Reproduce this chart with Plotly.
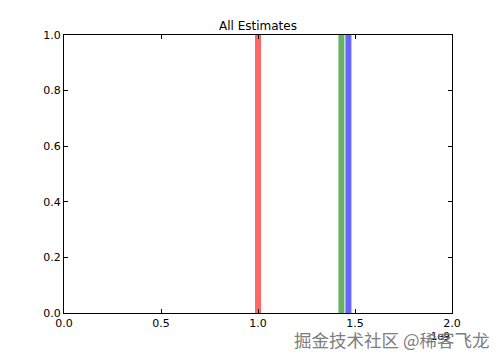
import plotly.graph_objects as go

estimates = [1.0e9, 1.43e9, 1.466e9]
colors = ["rgba(255,0,0,0.6)", "rgba(0,128,0,0.6)", "rgba(0,0,255,0.6)"]
x_ticks = [0.0, 0.5, 1.0, 1.5, 2.0]
y_ticks = [0.0, 0.2, 0.4, 0.6, 0.8, 1.0]
scale = 1e9

fig = go.Figure()
for v, c in zip(estimates, colors):
    fig.add_trace(go.Scatter(x=[v / scale, v / scale], y=[0, 1], mode="lines",
                             line=dict(color=c, width=6), showlegend=False, hoverinfo="skip"))

axis_common = dict(showgrid=False, zeroline=False, showline=True, linecolor="black", linewidth=1,
                   mirror="ticks", ticks="inside", ticklen=4, tickcolor="black",
                   tickfont=dict(family="DejaVu Sans", size=11, color="black"))
fig.update_xaxes(range=[0, 2], tickvals=x_ticks, ticktext=[f"{t:.1f}" for t in x_ticks], **axis_common)
fig.update_yaxes(range=[0, 1], tickvals=y_ticks, ticktext=[f"{t:.1f}" for t in y_ticks], **axis_common)

fig.update_layout(
    width=502, height=359,
    margin=dict(l=64, r=50, t=35, b=46),
    paper_bgcolor="white", plot_bgcolor="white",
    title=dict(text="All Estimates", x=0.5, xref="paper", xanchor="center",
               y=1 - 26 / 359, yref="container", yanchor="middle",
               font=dict(family="DejaVu Sans", size=12, color="black")),
    annotations=[
        dict(text="1e9", x=1, xref="paper", y=0, yref="paper", xanchor="right", yanchor="top",
             yshift=-16, showarrow=False, font=dict(family="DejaVu Sans", size=10, color="black")),
        dict(text="掘金技术社区 @稀客飞龙", x=(491 - 64) / 388, xref="paper",
             y=(313 - 339) / 278, yref="paper", showarrow=False,
             xanchor="right", yanchor="middle",
             font=dict(family="Noto Sans CJK SC", size=17.5, color="rgb(125,125,125)")),
    ],
)

fig.write_html("out.html")
